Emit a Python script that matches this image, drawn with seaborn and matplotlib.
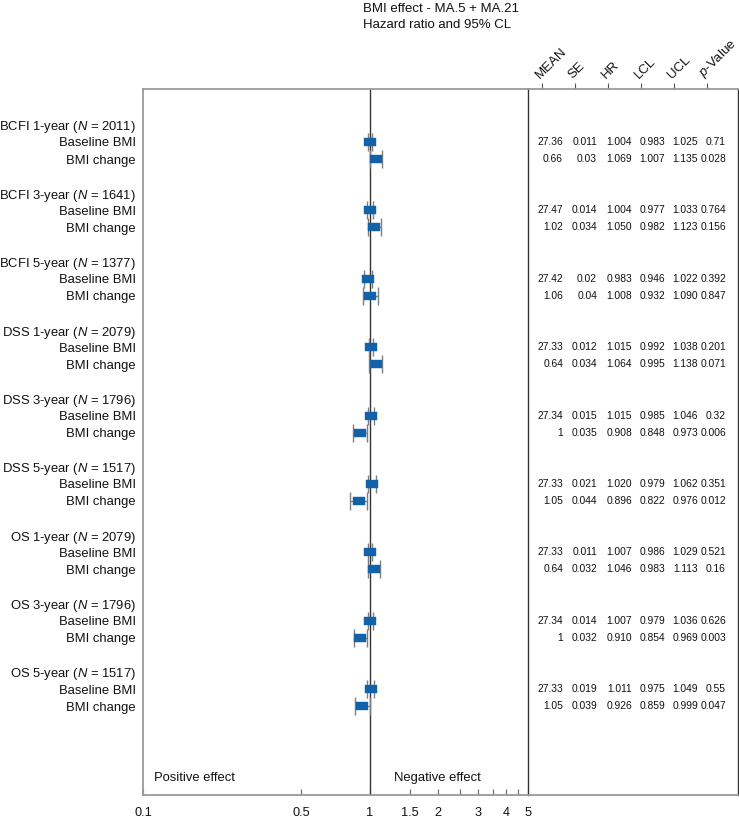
import numpy as np
import pandas as pd
import matplotlib
matplotlib.use("Agg")
import matplotlib.pyplot as plt
import seaborn as sns

# ---------------- data ----------------
endpoints = ["BCFI 1-year", "BCFI 3-year", "BCFI 5-year",
             "DSS 1-year", "DSS 3-year", "DSS 5-year",
             "OS 1-year", "OS 3-year", "OS 5-year"]
n_patients = [2011, 1641, 1377, 2079, 1796, 1517, 2079, 1796, 1517]
sub_labels = ["Baseline BMI", "BMI change"]

mean_txt = ["27.36", "0.66", "27.47", "1.02", "27.42", "1.06",
            "27.33", "0.64", "27.34", "1", "27.33", "1.05",
            "27.33", "0.64", "27.34", "1", "27.33", "1.05"]
se_txt = ["0.011", "0.03", "0.014", "0.034", "0.02", "0.04",
          "0.012", "0.034", "0.015", "0.035", "0.021", "0.044",
          "0.011", "0.032", "0.014", "0.032", "0.019", "0.039"]
hr_txt = ["1.004", "1.069", "1.004", "1.050", "0.983", "1.008",
          "1.015", "1.064", "1.015", "0.908", "1.020", "0.896",
          "1.007", "1.046", "1.007", "0.910", "1.011", "0.926"]
lcl_txt = ["0.983", "1.007", "0.977", "0.982", "0.946", "0.932",
           "0.992", "0.995", "0.985", "0.848", "0.979", "0.822",
           "0.986", "0.983", "0.979", "0.854", "0.975", "0.859"]
ucl_txt = ["1.025", "1.135", "1.033", "1.123", "1.022", "1.090",
           "1.038", "1.138", "1.046", "0.973", "1.062", "0.976",
           "1.029", "1.113", "1.036", "0.969", "1.049", "0.999"]
p_txt = ["0.71", "0.028", "0.764", "0.156", "0.392", "0.847",
         "0.201", "0.071", "0.32", "0.006", "0.351", "0.012",
         "0.521", "0.16", "0.626", "0.003", "0.55", "0.047"]

col_headers = ["MEAN", "SE", "HR", "LCL", "UCL", r"$\mathit{p}$-Value"]
x_major = [0.1, 0.5, 1, 1.5, 2, 3, 4, 5]
x_major_labels = ["0.1", "0.5", "1", "1.5", "2", "3", "4", "5"]
x_minor = [2.5, 3.5, 4.5]

# ---------------- style ----------------
sns.set_theme(style="white")
plt.rcParams["font.family"] = ["Liberation Sans", "DejaVu Sans"]
plt.rcParams["mathtext.fontset"] = "custom"
plt.rcParams["mathtext.rm"] = "Liberation Sans"
plt.rcParams["mathtext.it"] = "Liberation Sans:italic"

BLUE = "#1162a8"
GRAY = "#9a9a9a"
DARK = "#333333"

# rows: group header at 4g, baseline 4g+1, change 4g+2
rows = []
for g in range(len(endpoints)):
    rows += [4 * g + 1, 4 * g + 2]
rows = np.array(rows, dtype=float)
head_rows = np.array([4 * g for g in range(len(endpoints))], dtype=float)

df = pd.DataFrame({
    "row": rows,
    "HR": np.array(hr_txt, dtype=float),
    "LCL": np.array(lcl_txt, dtype=float),
    "UCL": np.array(ucl_txt, dtype=float),
})

W, H = 739, 818
fig = plt.figure(figsize=(W / 100, H / 100), dpi=100)
x0, x1, x2 = 143, 528, 738
ytop, ybot = 89, 795
bottom = (H - ybot) / H
height = (ybot - ytop) / H
ylim = (39.2, -2.1)

# ---------------- left forest panel ----------------
ax = fig.add_axes([x0 / W, bottom, (x1 - x0) / W, height])
ax.set_xscale("log")
ax.set_xlim(0.1, 5)
ax.set_ylim(*ylim)

ax.axvline(1, color=DARK, lw=1.0, zorder=1)
ax.errorbar(df["HR"], df["row"],
            xerr=[df["HR"] - df["LCL"], df["UCL"] - df["HR"]],
            fmt="none", ecolor="#7f7f7f", elinewidth=1.0,
            capsize=6.5, capthick=1.0, zorder=2)
box = [(-0.6, -0.45), (0.6, -0.45), (0.6, 0.45), (-0.6, 0.45), (-0.6, -0.45)]
sns.scatterplot(data=df, x="HR", y="row", marker=box, s=72, color=BLUE,
                edgecolor=BLUE, linewidth=0.3, ax=ax, zorder=3, legend=False)
ax.set_xlabel("")
ax.set_ylabel("")

ax.xaxis.set_major_locator(matplotlib.ticker.FixedLocator(x_major))
ax.xaxis.set_major_formatter(matplotlib.ticker.FixedFormatter(x_major_labels))
ax.xaxis.set_minor_locator(matplotlib.ticker.FixedLocator(x_minor))
ax.xaxis.set_minor_formatter(matplotlib.ticker.NullFormatter())
ax.tick_params(axis="x", which="both", direction="in", length=4, width=0.8,
               color="#666666", labelsize=9.2, pad=9, bottom=True, labelcolor="#111111")

ylabels = []
ypos = []
for g, (name, n) in enumerate(zip(endpoints, n_patients)):
    ypos.append(head_rows[g])
    ylabels.append(name + r" ($\mathit{N}$ = " + f"{n})")
    ypos += [rows[2 * g], rows[2 * g + 1]]
    ylabels += sub_labels
ax.set_yticks(ypos)
ax.set_yticklabels(ylabels, fontsize=9.4, color="#111111")
ax.tick_params(axis="y", length=0, pad=5, left=True)

for side in ["left", "top", "bottom"]:
    ax.spines[side].set_color(GRAY)
    ax.spines[side].set_linewidth(1.3)
ax.spines["right"].set_visible(False)

ax.text(0.028, 0.0235, "Positive effect", transform=ax.transAxes,
        fontsize=9.4, ha="left", va="center", color="#111111")
ax.text(0.652, 0.0235, "Negative effect", transform=ax.transAxes,
        fontsize=9.4, ha="left", va="center", color="#111111")

# ---------------- right table panel ----------------
ax2 = fig.add_axes([x1 / W, bottom, (x2 - x1) / W, height])
ax2.set_xlim(0, x2 - x1)
ax2.set_ylim(*ylim)
col_x = [14, 47, 80, 113, 146, 179]
val_right = [35, 69, 104, 137, 170, 198]
ax2.xaxis.tick_top()
ax2.set_xticks(col_x)
ax2.set_xticklabels(col_headers, rotation=45, ha="left", va="bottom",
                    rotation_mode="anchor", fontsize=9.5, color="#111111")
ax2.tick_params(axis="x", direction="out", length=4, width=0.8, color="#555555",
                pad=2, top=True)
ax2.set_yticks([])
for side in ["left", "right"]:
    ax2.spines[side].set_color(DARK)
    ax2.spines[side].set_linewidth(1.0)
for side in ["top", "bottom"]:
    ax2.spines[side].set_color(GRAY)
    ax2.spines[side].set_linewidth(1.3)

cols = [mean_txt, se_txt, hr_txt, lcl_txt, ucl_txt, p_txt]
for c, col in enumerate(cols):
    for r, txt in zip(rows, col):
        ax2.text(val_right[c], r, txt, ha="right", va="center",
                 fontsize=7.4, color="#111111")

# ---------------- title ----------------
fig.text(363 / W, 1 - 9 / H, "BMI effect - MA.5 + MA.21", fontsize=9.5,
         ha="left", va="center", color="#111111")
fig.text(363 / W, 1 - 25 / H, "Hazard ratio and 95% CL", fontsize=9.5,
         ha="left", va="center", color="#111111")

fig.savefig("out.png", dpi=100)
